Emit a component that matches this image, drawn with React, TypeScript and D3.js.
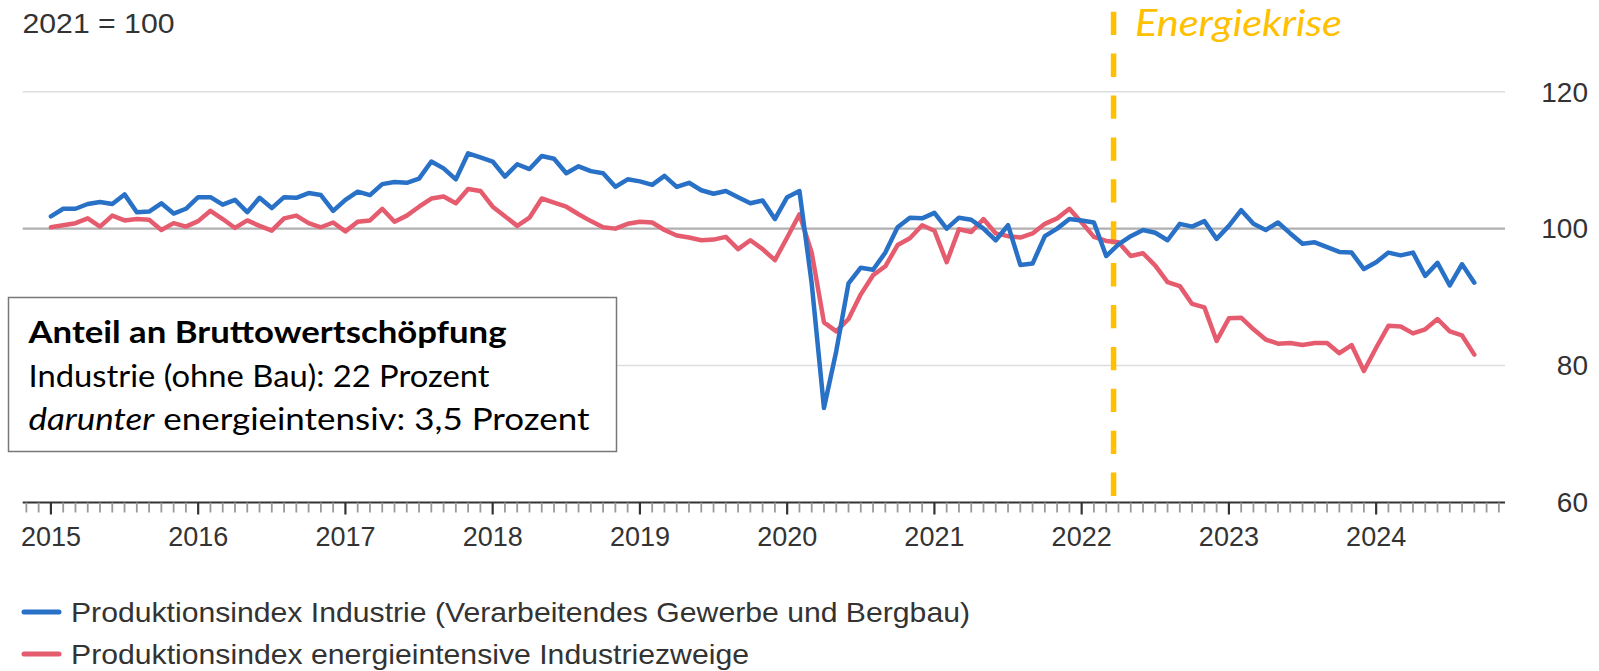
import React from "react";
import * as d3 from "d3";

// Monthly data, Jan 2015 .. Sep 2024 (2021 = 100)
const startYear = 2015;
const industrie: number[] = [
  101.8, 102.9, 102.9, 103.6, 103.9, 103.6, 105.0, 102.4, 102.5, 103.7, 102.2, 102.9,
  104.6, 104.6, 103.5, 104.2, 102.4, 104.5, 103.0, 104.6, 104.5, 105.2, 104.9, 102.6,
  104.2, 105.4, 104.9, 106.5, 106.8, 106.7, 107.3, 109.8, 108.8, 107.2, 111.0, 110.4,
  109.8, 107.6, 109.4, 108.7, 110.6, 110.2, 108.1, 109.1, 108.4, 108.1, 106.1, 107.2,
  106.9, 106.4, 107.7, 106.1, 106.7, 105.6, 105.1, 105.5, 104.6, 103.7, 104.1, 101.4,
  104.6, 105.5, 92.0, 73.8, 82.1, 92.0, 94.3, 94.0, 96.5, 100.2, 101.6, 101.5,
  102.3, 100.0, 101.6, 101.3, 100.0, 98.3, 100.5, 94.7, 94.9, 98.9, 100.0, 101.4,
  101.2, 100.9, 96.0, 97.7, 98.9, 99.8, 99.4, 98.3, 100.7, 100.3, 101.1, 98.5,
  100.4, 102.7, 100.7, 99.8, 100.9, 99.3, 97.8, 98.0, 97.3, 96.6, 96.5, 94.1,
  95.1, 96.5, 96.1, 96.5, 93.1, 95.0, 91.7, 94.8, 92.1,
];
const energieintensiv: number[] = [
  100.2, 100.5, 100.8, 101.5, 100.3, 101.9, 101.2, 101.4, 101.3, 99.8, 100.8, 100.3,
  101.1, 102.6, 101.4, 100.1, 101.2, 100.4, 99.7, 101.5, 101.9, 100.8, 100.2, 100.9,
  99.6, 101.0, 101.2, 102.9, 101.0, 101.9, 103.2, 104.4, 104.7, 103.7, 105.8, 105.5,
  103.2, 101.8, 100.4, 101.6, 104.4, 103.8, 103.2, 102.1, 101.1, 100.2, 100.0, 100.7,
  101.0, 100.9, 99.8, 99.0, 98.7, 98.3, 98.4, 98.8, 97.0, 98.3, 97.0, 95.4,
  98.7, 102.1, 96.5, 86.3, 85.0, 86.8, 90.4, 93.2, 94.5, 97.6, 98.6, 100.5,
  99.7, 95.1, 99.9, 99.5, 101.4, 99.3, 98.9, 98.7, 99.3, 100.7, 101.5, 102.9,
  100.9, 98.8, 98.2, 98.0, 96.0, 96.4, 94.6, 92.2, 91.6, 89.0, 88.5, 83.6,
  86.9, 87.0, 85.3, 83.8, 83.2, 83.3, 83.0, 83.3, 83.3, 81.8, 83.0, 79.2,
  82.6, 85.8, 85.7, 84.7, 85.3, 86.8, 85.0, 84.4, 81.6,
];
const yearLabels: string[] = ["2015", "2016", "2017", "2018", "2019", "2020", "2021", "2022", "2023", "2024"];
const yTicks: number[] = [60, 80, 100, 120];
const seriesNames: string[] = [
  "Produktionsindex Industrie (Verarbeitendes Gewerbe und Bergbau)",
  "Produktionsindex energieintensive Industriezweige",
];
const energyCrisisMonth = 86.6; // months since Jan 2015
const boxLines = {
  title: "Anteil an Bruttowertschöpfung",
  line2: "Industrie (ohne Bau): 22 Prozent",
  line3Italic: "darunter",
  line3Rest: " energieintensiv: 3,5 Prozent",
};

const BLUE = "#2871C6";
const RED = "#E65C6F";
const GOLD = "#FFC000";
const TXT = "#333333";
const SANS = "'Liberation Sans', Arial, sans-serif";
const CAL = "Lato, 'Open Sans', sans-serif";

export default function App() {
  const W = 1599;
  const H = 671;
  const x = d3.scaleLinear().domain([-2.3, 118.5]).range([22.7, 1505]);
  const y = d3.scaleLinear().domain([60, 120]).range([502.5, 91.7]);

  const line = d3
    .line<number>()
    .x((_, i) => x(i))
    .y((d) => y(d));

  const monthTicks = d3.range(-2, 119);
  const axisY = y(60);
  const legendWidths = [899, 678];

  return (
    <svg
      width={W}
      height={H}
      style={{ position: "absolute", left: 0, top: 0, background: "#fff" }}
    >
      {/* unit label */}
      <text x={22.5} y={33} fontFamily={SANS} fontSize={28} fill={TXT} textLength={152} lengthAdjust="spacingAndGlyphs">
        2021 = 100
      </text>

      {/* gridlines */}
      {yTicks
        .filter((t) => t !== 60)
        .map((t) => (
          <line
            key={t}
            x1={x(-2.3)}
            x2={x(118.5)}
            y1={y(t)}
            y2={y(t)}
            stroke={t === 100 ? "#b0b0b0" : "#dddddd"}
            strokeWidth={t === 100 ? 2.2 : 1.5}
          />
        ))}

      {/* y labels (right) */}
      {yTicks.map((t) => (
        <text
          key={t}
          x={1588}
          y={y(t)}
          dy="0.35em"
          textAnchor="end"
          fontFamily={SANS}
          fontSize={28}
          fill={TXT}
        >
          {t}
        </text>
      ))}

      {/* x axis */}
      <line x1={x(-2.3)} x2={x(118.5)} y1={axisY} y2={axisY} stroke="#333" strokeWidth={2} />
      {monthTicks.map((m) => {
        const major = m % 12 === 0;
        return (
          <line
            key={m}
            x1={x(m)}
            x2={x(m)}
            y1={axisY}
            y2={axisY + (major ? 12 : 10)}
            stroke={major ? "#333" : "#999"}
            strokeWidth={major ? 2.2 : 1.8}
          />
        );
      })}
      {yearLabels.map((lab, k) => (
        <text
          key={lab}
          x={x(k * 12)}
          y={546}
          textAnchor="middle"
          fontFamily={SANS}
          fontSize={27}
          fill={TXT}
        >
          {lab}
        </text>
      ))}

      {/* energy crisis marker */}
      <line
        x1={x(energyCrisisMonth)}
        x2={x(energyCrisisMonth)}
        y1={11.7}
        y2={497}
        stroke={GOLD}
        strokeWidth={5.5}
        strokeDasharray="23.3 18.6"
      />
      <text
        x={1135}
        y={36}
        fontFamily={CAL}
        fontStyle="italic"
        fontSize={37}
        fill={GOLD}
        textLength={207}
        lengthAdjust="spacingAndGlyphs"
      >
        Energiekrise
      </text>

      {/* series */}
      <path d={line(energieintensiv) || ""} fill="none" stroke={RED} strokeWidth={4.5} strokeLinejoin="round" strokeLinecap="round" />
      <path d={line(industrie) || ""} fill="none" stroke={BLUE} strokeWidth={4.5} strokeLinejoin="round" strokeLinecap="round" />

      {/* info box */}
      <rect x={8.5} y={297.5} width={608} height={154} fill="#fff" stroke="#777" strokeWidth={1.5} />
      <text x={28.5} y={343} fontFamily={CAL} fontWeight="bold" fontSize={31} fill="#000" textLength={478} lengthAdjust="spacingAndGlyphs">
        {boxLines.title}
      </text>
      <text x={28.5} y={386.5} fontFamily={CAL} fontSize={31} fill="#000" textLength={461} lengthAdjust="spacingAndGlyphs">
        {boxLines.line2}
      </text>
      <text x={28.5} y={429.5} fontFamily={CAL} fontSize={31} fill="#000" textLength={561} lengthAdjust="spacingAndGlyphs">
        <tspan fontStyle="italic">{boxLines.line3Italic}</tspan>
        <tspan>{boxLines.line3Rest}</tspan>
      </text>

      {/* legend */}
      {seriesNames.map((name, i) => {
        const ly = 612 + i * 42;
        return (
          <g key={name}>
            <line x1={24} x2={59} y1={ly} y2={ly} stroke={i === 0 ? BLUE : RED} strokeWidth={5} strokeLinecap="round" />
            <text
              x={71}
              y={ly}
              dy="0.35em"
              fontFamily={SANS}
              fontSize={28}
              fill={TXT}
              textLength={legendWidths[i]}
              lengthAdjust="spacingAndGlyphs"
            >
              {name}
            </text>
          </g>
        );
      })}
    </svg>
  );
}
